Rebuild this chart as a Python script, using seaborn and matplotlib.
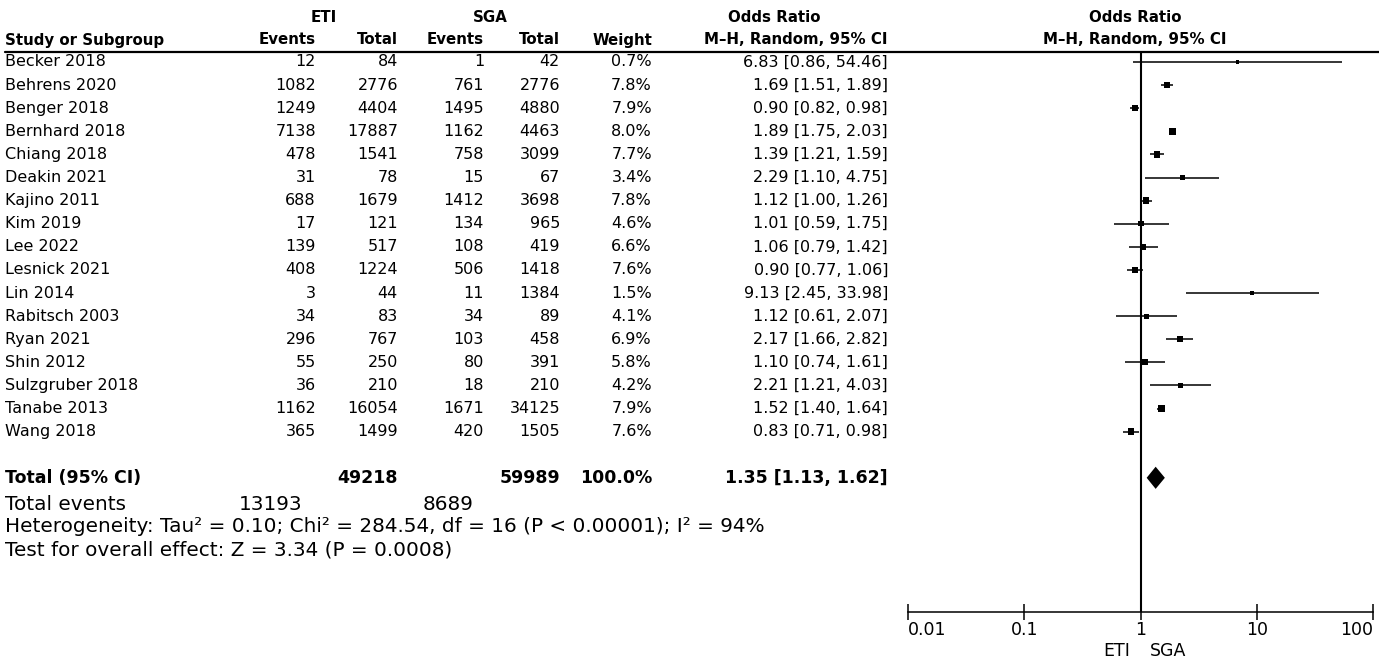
import matplotlib
matplotlib.use("Agg")
import matplotlib.pyplot as plt
import seaborn as sns
import pandas as pd
import numpy as np

studies = ["Becker 2018", "Behrens 2020", "Benger 2018", "Bernhard 2018", "Chiang 2018",
           "Deakin 2021", "Kajino 2011", "Kim 2019", "Lee 2022", "Lesnick 2021", "Lin 2014",
           "Rabitsch 2003", "Ryan 2021", "Shin 2012", "Sulzgruber 2018", "Tanabe 2013", "Wang 2018"]
eti_events = [12, 1082, 1249, 7138, 478, 31, 688, 17, 139, 408, 3, 34, 296, 55, 36, 1162, 365]
eti_total = [84, 2776, 4404, 17887, 1541, 78, 1679, 121, 517, 1224, 44, 83, 767, 250, 210, 16054, 1499]
sga_events = [1, 761, 1495, 1162, 758, 15, 1412, 134, 108, 506, 11, 34, 103, 80, 18, 1671, 420]
sga_total = [42, 2776, 4880, 4463, 3099, 67, 3698, 965, 419, 1418, 1384, 89, 458, 391, 210, 34125, 1505]
weights = [0.7, 7.8, 7.9, 8.0, 7.7, 3.4, 7.8, 4.6, 6.6, 7.6, 1.5, 4.1, 6.9, 5.8, 4.2, 7.9, 7.6]
odds = [6.83, 1.69, 0.90, 1.89, 1.39, 2.29, 1.12, 1.01, 1.06, 0.90, 9.13, 1.12, 2.17, 1.10, 2.21, 1.52, 0.83]
ci_low = [0.86, 1.51, 0.82, 1.75, 1.21, 1.10, 1.00, 0.59, 0.79, 0.77, 2.45, 0.61, 1.66, 0.74, 1.21, 1.40, 0.71]
ci_high = [54.46, 1.89, 0.98, 2.03, 1.59, 4.75, 1.26, 1.75, 1.42, 1.06, 33.98, 2.07, 2.82, 1.61, 4.03, 1.64, 0.98]

total_or, total_lo, total_hi = 1.35, 1.13, 1.62
total_eti_n, total_sga_n = 49218, 59989
total_eti_ev, total_sga_ev = 13193, 8689
tick_values = [0.01, 0.1, 1, 10, 100]
tick_labels = ["0.01", "0.1", "1", "10", "100"]

sns.set_style("white")
plt.rcParams["font.family"] = ["DejaVu Sans"]
plt.rcParams["text.color"] = "black"
plt.rcParams["xtick.color"] = "black"

W, H = 1379, 658
fig = plt.figure(figsize=(W / 100, H / 100), dpi=100)
fig.patch.set_facecolor("white")
bg = fig.add_axes([0, 0, 1, 1])
bg.set_xlim(0, W)
bg.set_ylim(H, 0)
bg.axis("off")

ROW0, STEP = 62, 23.1
def rowy(i):
    return ROW0 + STEP * i

RS = 11.5   # regular size
BS = 10.8   # bold size

# headers
hdr1, hdr2 = 17, 40
bg.text(324, hdr1, "ETI", ha="center", va="center", fontsize=BS, fontweight="bold")
bg.text(490, hdr1, "SGA", ha="center", va="center", fontsize=BS, fontweight="bold")
bg.text(774, hdr1, "Odds Ratio", ha="center", va="center", fontsize=BS, fontweight="bold")
bg.text(1135, hdr1, "Odds Ratio", ha="center", va="center", fontsize=BS, fontweight="bold")
bg.text(5, hdr2, "Study or Subgroup", ha="left", va="center", fontsize=BS, fontweight="bold")
col_x = [316, 398, 484, 560, 652, 888]
for x, s in zip(col_x, ["Events", "Total", "Events", "Total", "Weight", "M\u2013H, Random, 95% CI"]):
    bg.text(x, hdr2, s, ha="right", va="center", fontsize=BS, fontweight="bold")
bg.text(1135, hdr2, "M\u2013H, Random, 95% CI", ha="center", va="center", fontsize=BS, fontweight="bold")
bg.plot([5, W], [52, 52], color="black", lw=1.6)

for i, name in enumerate(studies):
    y = rowy(i)
    bg.text(5, y, name, ha="left", va="center", fontsize=RS)
    vals = [str(eti_events[i]), str(eti_total[i]), str(sga_events[i]), str(sga_total[i]),
            f"{weights[i]:.1f}%", f"{odds[i]:.2f} [{ci_low[i]:.2f}, {ci_high[i]:.2f}]"]
    for x, s in zip(col_x, vals):
        bg.text(x, y, s, ha="right", va="center", fontsize=RS)

TS = 12.5
ty = rowy(18)
bg.text(5, ty, "Total (95% CI)", ha="left", va="center", fontsize=TS, fontweight="bold")
for x, s in zip([398, 560, 652, 888],
                [str(total_eti_n), str(total_sga_n), "100.0%", f"{total_or:.2f} [{total_lo:.2f}, {total_hi:.2f}]"]):
    bg.text(x, ty, s, ha="right", va="center", fontsize=TS, fontweight="bold")

# footer lines: fit heterogeneity line to the reference width
FF = "DejaVu Sans"
het = bg.text(5, 527, "Heterogeneity: Tau\u00b2 = 0.10; Chi\u00b2 = 284.54, df = 16 (P < 0.00001); I\u00b2 = 94%",
              ha="left", va="center", fontsize=12, family=FF)
fig.canvas.draw()
wpx = het.get_window_extent().width
FS = 12 * 755 / wpx
het.set_fontsize(FS)
bg.text(5, 504, "Total events", ha="left", va="center", fontsize=FS, family=FF)
bg.text(302, 504, str(total_eti_ev), ha="right", va="center", fontsize=FS, family=FF)
bg.text(474, 504, str(total_sga_ev), ha="right", va="center", fontsize=FS, family=FF)
bg.text(5, 550, "Test for overall effect: Z = 3.34 (P = 0.0008)", ha="left", va="center", fontsize=FS, family=FF)

# forest axes
x0, x1, ytop, ybot = 908, 1373, 52, 612
ax = fig.add_axes([x0 / W, 1 - ybot / H, (x1 - x0) / W, (ybot - ytop) / H])
ax.set_facecolor("none")
ax.set_xscale("log")
ax.set_xlim(0.01, 100)
ax.set_ylim((ybot - ROW0) / STEP, (ytop - ROW0) / STEP)

df = pd.DataFrame({"study": studies, "row": np.arange(len(studies)), "or": odds,
                   "lo": ci_low, "hi": ci_high, "weight": weights})
ax.hlines(df["row"], df["lo"], df["hi"], color="black", lw=1.1)
sns.scatterplot(data=df, x="or", y="row", size="weight", sizes=(5, 22), size_norm=(0, 8),
                marker="s", color="black", edgecolor="none", legend=False, ax=ax)
ax.axvline(1, color="black", lw=1.5)
dy = 0.48
ax.fill([total_lo, total_or, total_hi, total_or], [18, 18 - dy, 18, 18 + dy], color="black", lw=0)

for sp in ["top", "left", "right"]:
    ax.spines[sp].set_visible(False)
ax.spines["bottom"].set_color("black")
ax.spines["bottom"].set_linewidth(1.1)
ax.set_yticks([])
ax.set_xticks(tick_values)
ax.set_xticks([], minor=True)
ax.set_xticklabels(tick_labels, fontsize=12.5)
ax.tick_params(axis="x", which="major", bottom=True, direction="inout", length=11, width=1.1,
               pad=1, colors="black")
labs = ax.get_xticklabels()
labs[0].set_horizontalalignment("left")
labs[-1].set_horizontalalignment("right")
ax.set_xlabel("")
ax.set_ylabel("")

bg.text(1117, 651, "ETI", ha="center", va="center", fontsize=12.5)
bg.text(1168, 651, "SGA", ha="center", va="center", fontsize=12.5)

fig.savefig("out.png", dpi=100, facecolor="white")
